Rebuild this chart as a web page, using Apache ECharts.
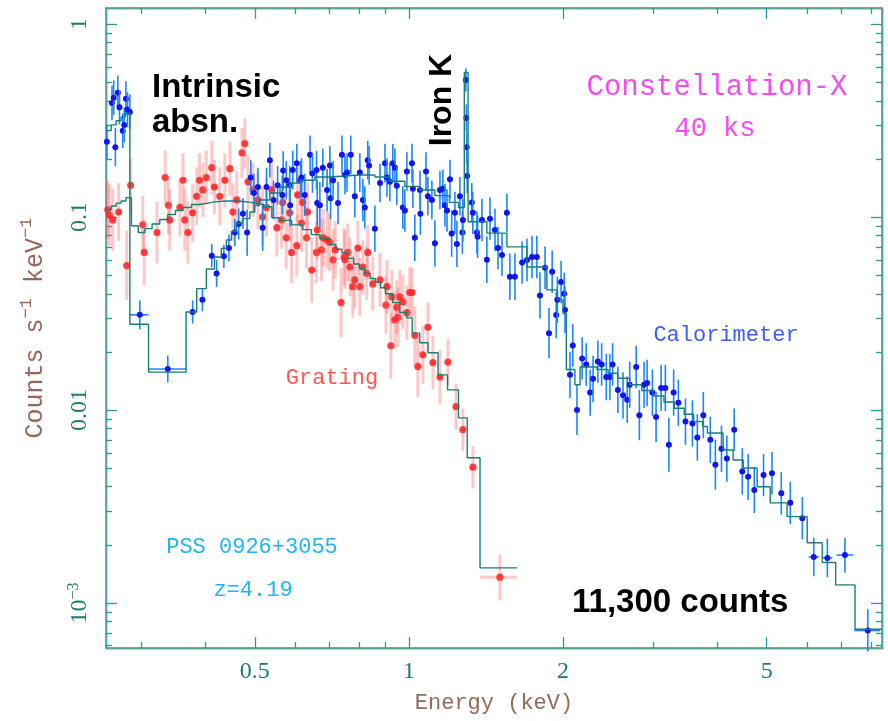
<!DOCTYPE html>
<html>
<head>
<meta charset="utf-8">
<title>Constellation-X simulated spectrum</title>
<script src="https://cdn.jsdelivr.net/npm/echarts@6/dist/echarts.min.js"></script>
<style>
  html, body { margin: 0; padding: 0; background: #fff; }
  #chart { width: 888px; height: 721px; }
</style>
</head>
<body>
<div id="chart"></div>
<script>
// axis ranges (keV, counts s^-1 keV^-1)
const energyRange = [0.256, 8.4];
const countRange = [0.000584, 1.21];
const energyMajorTicks = [0.5, 1, 2, 5];
const energyMinorTicks = [0.3, 0.4, 0.6, 0.7, 0.8, 0.9, 3, 4, 6, 7, 8];
const countMajorTicks = [0.001, 0.01, 0.1, 1];
const countMinorTicks = [
  0.0006, 0.0007, 0.0008, 0.0009,
  0.002, 0.003, 0.004, 0.005, 0.006, 0.007, 0.008, 0.009,
  0.02, 0.03, 0.04, 0.05, 0.06, 0.07, 0.08, 0.09,
  0.2, 0.3, 0.4, 0.5, 0.6, 0.7, 0.8, 0.9
];

// calorimeter points: [energy, counts, error (dex), bin low, bin high]
const calorimeterPoints = [
  [0.257, 0.245, 0.09], [0.263, 0.39, 0.09], [0.265, 0.415, 0.09], [0.267, 0.23, 0.10],
  [0.270, 0.44, 0.09], [0.272, 0.37, 0.09], [0.276, 0.28, 0.09], [0.278, 0.30, 0.09],
  [0.280, 0.41, 0.09], [0.282, 0.36, 0.09], [0.285, 0.35, 0.09],
  [0.298, 0.0311, 0.075, 0.285, 0.310], [0.338, 0.0163, 0.07, 0.310, 0.367],
  [0.378, 0.0322, 0.06], [0.395, 0.0372, 0.06], [0.412, 0.063, 0.06], [0.421, 0.051, 0.07],
  [0.435, 0.0625, 0.06], [0.445, 0.069, 0.07], [0.457, 0.083, 0.07], [0.465, 0.092, 0.08],
  [0.474, 0.104, 0.08], [0.483, 0.083, 0.12], [0.491, 0.160, 0.09], [0.498, 0.133, 0.10],
  [0.507, 0.143, 0.10], [0.518, 0.088, 0.12], [0.527, 0.143, 0.10], [0.535, 0.197, 0.09],
  [0.544, 0.1225, 0.10], [0.554, 0.146, 0.10], [0.566, 0.130, 0.10], [0.568, 0.174, 0.10],
  [0.576, 0.155, 0.10], [0.585, 0.146, 0.10], [0.586, 0.115, 0.11], [0.593, 0.175, 0.10],
  [0.604, 0.190, 0.10], [0.614, 0.155, 0.10], [0.617, 0.160, 0.10], [0.626, 0.130, 0.11],
  [0.641, 0.210, 0.10], [0.648, 0.168, 0.10], [0.660, 0.175, 0.10], [0.662, 0.118, 0.12],
  [0.670, 0.115, 0.12], [0.679, 0.180, 0.10], [0.692, 0.138, 0.11], [0.701, 0.185, 0.10],
  [0.703, 0.125, 0.11], [0.711, 0.155, 0.10], [0.727, 0.118, 0.11], [0.740, 0.210, 0.10],
  [0.750, 0.165, 0.10], [0.757, 0.170, 0.10], [0.770, 0.210, 0.10], [0.784, 0.128, 0.11],
  [0.802, 0.170, 0.10], [0.813, 0.1225, 0.11], [0.820, 0.112, 0.11], [0.831, 0.197, 0.10],
  [0.836, 0.185, 0.10], [0.858, 0.087, 0.12], [0.878, 0.150, 0.10], [0.898, 0.190, 0.10],
  [0.906, 0.160, 0.10], [0.918, 0.152, 0.10], [0.930, 0.190, 0.10], [0.939, 0.180, 0.10],
  [0.947, 0.145, 0.10], [0.973, 0.112, 0.11], [0.982, 0.108, 0.11], [0.991, 0.172, 0.10],
  [1.014, 0.190, 0.10], [1.018, 0.140, 0.10], [1.027, 0.078, 0.12], [1.051, 0.138, 0.10],
  [1.053, 0.104, 0.11], [1.080, 0.172, 0.10], [1.089, 0.128, 0.10], [1.109, 0.1225, 0.10],
  [1.124, 0.073, 0.12], [1.150, 0.138, 0.10], [1.165, 0.140, 0.10], [1.176, 0.115, 0.11],
  [1.187, 0.108, 0.11], [1.203, 0.157, 0.10], [1.212, 0.082, 0.12], [1.230, 0.105, 0.11],
  [1.241, 0.0725, 0.12], [1.258, 0.128, 0.10], [1.272, 0.083, 0.11], [1.275, 0.0965, 0.11],
  [1.292, 0.513, 0.06], [1.295, 0.326, 0.07], [1.297, 0.230, 0.08],
  [1.300, 0.163, 0.09], [1.327, 0.119, 0.10], [1.333, 0.105, 0.11], [1.358, 0.083, 0.11],
  [1.362, 0.079, 0.11], [1.389, 0.0965, 0.11], [1.420, 0.060, 0.12], [1.440, 0.098, 0.11],
  [1.473, 0.0856, 0.11], [1.493, 0.069, 0.11], [1.520, 0.0635, 0.11], [1.554, 0.105, 0.10],
  [1.575, 0.049, 0.12], [1.611, 0.049, 0.12], [1.664, 0.058, 0.11], [1.701, 0.0599, 0.11],
  [1.740, 0.062, 0.11], [1.778, 0.062, 0.11], [1.803, 0.0392, 0.12], [1.845, 0.0545, 0.11],
  [1.878, 0.025, 0.13], [1.905, 0.052, 0.11], [1.940, 0.031, 0.12], [1.950, 0.0372, 0.12],
  [1.983, 0.046, 0.11], [2.011, 0.040, 0.11], [2.018, 0.033, 0.12],
  [2.064, 0.0152, 0.12], [2.090, 0.0216, 0.11], [2.130, 0.0100, 0.13], [2.180, 0.0185, 0.11],
  [2.220, 0.0172, 0.11], [2.260, 0.0123, 0.12], [2.290, 0.0145, 0.12], [2.340, 0.0178, 0.11],
  [2.380, 0.0172, 0.11], [2.430, 0.0148, 0.12], [2.470, 0.0148, 0.12], [2.500, 0.0172, 0.11],
  [2.560, 0.0127, 0.12], [2.620, 0.0119, 0.12], [2.670, 0.0113, 0.12], [2.700, 0.0135, 0.12],
  [2.780, 0.0167, 0.11], [2.820, 0.0094, 0.13], [2.880, 0.0135, 0.12], [2.920, 0.0138, 0.12],
  [2.990, 0.0123, 0.12], [3.040, 0.0092, 0.13], [3.110, 0.0130, 0.12], [3.170, 0.0130, 0.12],
  [3.220, 0.0066, 0.14], [3.290, 0.0123, 0.12], [3.360, 0.0109, 0.12], [3.470, 0.0087, 0.12],
  [3.580, 0.0085, 0.12], [3.660, 0.0072, 0.12], [3.760, 0.0094, 0.12], [3.880, 0.0070, 0.12],
  [3.970, 0.0052, 0.13], [4.080, 0.0063, 0.12], [4.180, 0.0056, 0.12], [4.320, 0.0079, 0.11],
  [4.480, 0.0048, 0.12], [4.600, 0.0045, 0.12], [4.730, 0.00385, 0.12], [4.930, 0.0046, 0.11],
  [5.120, 0.0047, 0.11], [5.340, 0.0037, 0.11], [5.560, 0.0033, 0.11], [5.870, 0.00275, 0.11],
  [6.180, 0.00173, 0.10, 6.04, 6.32], [6.570, 0.00171, 0.10, 6.42, 6.72],
  [7.110, 0.00177, 0.09, 6.85, 7.38], [7.880, 0.00072, 0.11, 7.41, 8.33]
];

// grating points: [energy, counts, error (dex), bin low, bin high]
const gratingPoints = [
  [0.258, 0.109, 0.15], [0.260, 0.102, 0.16], [0.264, 0.0965, 0.16], [0.271, 0.106, 0.15],
  [0.281, 0.056, 0.18], [0.286, 0.146, 0.14], [0.302, 0.091, 0.15], [0.304, 0.0655, 0.17],
  [0.322, 0.083, 0.16], [0.334, 0.160, 0.14], [0.339, 0.115, 0.15], [0.341, 0.0965, 0.16],
  [0.357, 0.112, 0.15], [0.362, 0.155, 0.14], [0.365, 0.0965, 0.16], [0.370, 0.083, 0.16],
  [0.378, 0.105, 0.15], [0.385, 0.128, 0.15], [0.390, 0.155, 0.14], [0.396, 0.138, 0.14],
  [0.402, 0.160, 0.14], [0.412, 0.180, 0.14], [0.417, 0.143, 0.14], [0.427, 0.128, 0.15],
  [0.437, 0.155, 0.14], [0.447, 0.178, 0.14], [0.453, 0.106, 0.15], [0.461, 0.1225, 0.15],
  [0.472, 0.215, 0.13], [0.478, 0.240, 0.13], [0.485, 0.152, 0.14], [0.496, 0.138, 0.14],
  [0.507, 0.1225, 0.15], [0.518, 0.100, 0.15], [0.527, 0.112, 0.15], [0.540, 0.138, 0.14],
  [0.552, 0.088, 0.15], [0.564, 0.0965, 0.15], [0.567, 0.119, 0.14], [0.576, 0.078, 0.16],
  [0.585, 0.105, 0.15], [0.590, 0.0655, 0.16], [0.604, 0.071, 0.16], [0.606, 0.130, 0.14],
  [0.617, 0.093, 0.15], [0.620, 0.119, 0.14], [0.631, 0.078, 0.16], [0.634, 0.106, 0.15],
  [0.646, 0.0531, 0.17], [0.660, 0.0655, 0.16], [0.662, 0.0856, 0.15], [0.675, 0.0675, 0.16],
  [0.680, 0.078, 0.15], [0.692, 0.076, 0.15], [0.700, 0.074, 0.15], [0.711, 0.0599, 0.16],
  [0.718, 0.0675, 0.15], [0.737, 0.036, 0.18], [0.747, 0.062, 0.15], [0.750, 0.060, 0.15],
  [0.760, 0.0655, 0.15], [0.767, 0.055, 0.15], [0.777, 0.0435, 0.16], [0.784, 0.0472, 0.15],
  [0.795, 0.069, 0.14], [0.802, 0.0435, 0.15], [0.813, 0.055, 0.14], [0.827, 0.051, 0.14],
  [0.831, 0.0655, 0.14], [0.850, 0.045, 0.14], [0.878, 0.0472, 0.14], [0.902, 0.0349, 0.15],
  [0.906, 0.0435, 0.14], [0.922, 0.0215, 0.17], [0.926, 0.0385, 0.14], [0.939, 0.0293, 0.15],
  [0.947, 0.034, 0.14], [0.952, 0.0302, 0.15], [0.960, 0.0385, 0.14], [0.973, 0.0363, 0.14],
  [0.991, 0.0319, 0.14], [1.004, 0.0406, 0.13], [1.014, 0.0406, 0.13], [1.027, 0.0243, 0.15],
  [1.041, 0.0168, 0.16], [1.065, 0.0193, 0.15], [1.089, 0.0268, 0.13], [1.114, 0.0176, 0.14],
  [1.150, 0.0148, 0.14], [1.192, 0.0177, 0.12], [1.236, 0.0104, 0.12], [1.275, 0.0079, 0.11],
  [1.334, 0.00505, 0.11], [1.506, 0.00136, 0.12, 1.377, 1.627]
];

// folded model, one [bin start, value] per bin, last entry closes the final bin
const calorimeterModel = [
  [0.256, 0.28], [0.262, 0.30], [0.268, 0.315], [0.274, 0.33], [0.279, 0.345],
  [0.285, 0.0278], [0.310, 0.0157], [0.367, 0.0322], [0.385, 0.0425], [0.402, 0.0537],
  [0.417, 0.062], [0.430, 0.0687], [0.440, 0.076], [0.450, 0.084], [0.460, 0.093],
  [0.473, 0.098], [0.489, 0.106], [0.500, 0.115], [0.511, 0.1225], [0.535, 0.133],
  [0.560, 0.143], [0.585, 0.150], [0.612, 0.155], [0.655, 0.161], [0.700, 0.163],
  [0.750, 0.165], [0.800, 0.165], [0.858, 0.161], [0.918, 0.153], [0.982, 0.144],
  [1.050, 0.138], [1.124, 0.129], [1.200, 0.119], [1.250, 0.112], [1.283, 0.56],
  [1.305, 0.0945], [1.420, 0.0825], [1.554, 0.070], [1.700, 0.055], [1.860, 0.0419],
  [1.950, 0.0372], [2.000, 0.0318], [2.030, 0.0162], [2.110, 0.0135], [2.160, 0.0167],
  [2.330, 0.0162], [2.450, 0.0155], [2.560, 0.0146], [2.700, 0.0135], [2.850, 0.0126],
  [3.000, 0.0118], [3.150, 0.0110], [3.300, 0.0102], [3.450, 0.0095], [3.600, 0.0087],
  [3.750, 0.0082], [3.830, 0.0076], [4.110, 0.0062], [4.300, 0.0055], [4.500, 0.0050],
  [4.790, 0.0040], [5.080, 0.0033], [5.480, 0.0028], [6.000, 0.00205], [6.420, 0.00162],
  [6.820, 0.00124], [7.440, 0.00073], [8.400, 0.00073]
];

const gratingModel = [
  [0.256, 0.109], [0.262, 0.114], [0.268, 0.118], [0.274, 0.121], [0.280, 0.126],
  [0.287, 0.090], [0.296, 0.083], [0.305, 0.087], [0.315, 0.092], [0.326, 0.097],
  [0.338, 0.103], [0.350, 0.108], [0.362, 0.112], [0.376, 0.116], [0.390, 0.118],
  [0.405, 0.120], [0.420, 0.121], [0.440, 0.121], [0.460, 0.120], [0.480, 0.118],
  [0.500, 0.116], [0.520, 0.113], [0.540, 0.099], [0.560, 0.096], [0.590, 0.091],
  [0.620, 0.086], [0.645, 0.081], [0.670, 0.077], [0.700, 0.072], [0.720, 0.068],
  [0.740, 0.065], [0.760, 0.061], [0.780, 0.057], [0.800, 0.054], [0.820, 0.051],
  [0.840, 0.048], [0.860, 0.046], [0.880, 0.043], [0.900, 0.040], [0.930, 0.036],
  [0.960, 0.032], [0.990, 0.030], [1.015, 0.025], [1.050, 0.0223], [1.090, 0.0198],
  [1.140, 0.0152], [1.190, 0.0127], [1.250, 0.0091], [1.300, 0.00565], [1.377, 0.00152],
  [1.627, 0.00152]
];

const frameColor = '#1f9e96';
const labelColor = '#1c7a72';
const titleColor = '#96685c';
const modelColor = '#167f78';
const plotFont = '"Liberation Mono", monospace';
const tickFont = '"Liberation Serif", serif';

const frameLine = {
  color: frameColor, width: 1.5,
  shadowColor: 'rgba(255, 110, 110, 0.6)', shadowOffsetX: 1, shadowOffsetY: 1
};

function countLabel(value) {
  if (Math.abs(value - 0.001) < 1e-6) return '{b|10}{s|−3}';
  if (Math.abs(value - 0.01) < 1e-5) return '0.01';
  if (Math.abs(value - 0.1) < 1e-4) return '0.1';
  return '1';
}

function energyLabel(value) {
  return String(Math.round(value * 10) / 10);
}

function withBins(points) {
  return points.map(([e, c, d, lo, hi]) => [e, c, d, lo ?? e, hi ?? e]);
}

function errorBars(dotColor, barColor, barWidth, radius) {
  return function (params, api) {
    const e = api.value(0);
    const c = api.value(1);
    const d = api.value(2);
    const lo = api.value(3);
    const hi = api.value(4);
    const p = api.coord([e, c]);
    const top = api.coord([e, c * Math.pow(10, d)]);
    const bottom = api.coord([e, c / Math.pow(10, d)]);
    let x1 = p[0] - 2.5;
    let x2 = p[0] + 2.5;
    if (hi > lo) {
      x1 = api.coord([lo, c])[0];
      x2 = api.coord([hi, c])[0];
    }
    return {
      type: 'group',
      children: [
        { type: 'line', shape: { x1: p[0], y1: top[1], x2: p[0], y2: bottom[1] }, style: { stroke: barColor, lineWidth: barWidth } },
        { type: 'line', shape: { x1: x1, y1: p[1], x2: x2, y2: p[1] }, style: { stroke: barColor, lineWidth: barWidth } },
        { type: 'circle', shape: { cx: p[0], cy: p[1], r: radius }, style: { fill: dotColor } }
      ]
    };
  };
}

function energyAxis(position, ticks, length, showLine, showLabels) {
  return {
    type: 'log', logBase: 10, position: position,
    min: energyRange[0], max: energyRange[1],
    axisLine: { show: showLine, onZero: false, lineStyle: frameLine },
    axisTick: { show: true, inside: true, length: length, customValues: ticks, lineStyle: { color: frameColor, width: 1.3 } },
    axisLabel: {
      show: showLabels, customValues: ticks, margin: 12, formatter: energyLabel,
      color: labelColor, fontFamily: tickFont, fontSize: 24,
      textShadowColor: 'rgba(255, 120, 120, 0.5)', textShadowOffsetX: 1
    },
    splitLine: { show: false }
  };
}

function countAxis(position, ticks, length, showLine, showLabels) {
  return {
    type: 'log', logBase: 10, position: position,
    min: countRange[0], max: countRange[1],
    axisLine: { show: showLine, onZero: false, lineStyle: frameLine },
    axisTick: { show: true, inside: true, length: length, customValues: ticks, lineStyle: { color: frameColor, width: 1.3 } },
    axisLabel: {
      show: showLabels, customValues: ticks, rotate: 90, margin: 14, formatter: countLabel,
      color: labelColor, fontFamily: tickFont, fontSize: 24,
      textShadowColor: 'rgba(255, 120, 120, 0.5)', textShadowOffsetX: 1,
      rich: {
        b: { fontFamily: tickFont, fontSize: 24, color: labelColor, lineHeight: 26, verticalAlign: 'bottom' },
        s: { fontFamily: tickFont, fontSize: 16, color: labelColor, lineHeight: 26, verticalAlign: 'top', padding: [0, 0, 10, 0] }
      }
    },
    splitLine: { show: false }
  };
}

const xAxes = [
  energyAxis('bottom', energyMajorTicks, 11, true, true),
  energyAxis('bottom', energyMinorTicks, 6, false, false),
  energyAxis('top', energyMajorTicks, 11, true, false),
  energyAxis('top', energyMinorTicks, 6, false, false)
];
xAxes[0].name = 'Energy (keV)';
xAxes[0].nameLocation = 'middle';
xAxes[0].nameGap = 44;
xAxes[0].nameTextStyle = {
  color: titleColor, fontFamily: plotFont, fontSize: 22,
  textShadowColor: 'rgba(40, 160, 150, 0.45)', textShadowOffsetX: 1
};

const yAxes = [
  countAxis('left', countMajorTicks, 11, true, true),
  countAxis('left', countMinorTicks, 6, false, false),
  countAxis('right', countMajorTicks, 11, true, false),
  countAxis('right', countMinorTicks, 6, false, false)
];
yAxes[0].name = '{t|Counts s}{s|−1}{t| keV}{s|−1}';
yAxes[0].nameLocation = 'middle';
yAxes[0].nameRotate = 90;
yAxes[0].nameGap = 58;
yAxes[0].nameTextStyle = {
  textShadowColor: 'rgba(40, 160, 150, 0.45)', textShadowOffsetX: 1,
  rich: {
    t: { color: titleColor, fontFamily: plotFont, fontSize: 25, lineHeight: 30, verticalAlign: 'bottom' },
    s: { color: titleColor, fontFamily: plotFont, fontSize: 17, lineHeight: 30, verticalAlign: 'top' }
  }
};

function plotText(text, x, y, font, color, align, rotation) {
  return {
    type: 'text', x: x, y: y, silent: true, z: 50, rotation: rotation || 0,
    style: {
      text: text, font: font, fill: color,
      align: align || 'center', verticalAlign: 'middle',
      textAlign: align || 'center', textVerticalAlign: 'middle'
    }
  };
}

const boldFont = 'bold 33px "Liberation Sans", Arial, sans-serif';

const chart = echarts.init(document.getElementById('chart'), null, { renderer: 'canvas' });

chart.setOption({
  animation: false,
  backgroundColor: '#ffffff',
  grid: { left: 106, right: 6, top: 8, bottom: 73, containLabel: false },
  xAxis: xAxes,
  yAxis: yAxes,
  series: [
    {
      name: 'Grating', type: 'custom', xAxisIndex: 0, yAxisIndex: 0,
      data: withBins(gratingPoints), encode: { x: 0, y: 1 }, z: 2, silent: true,
      renderItem: errorBars('rgba(255, 35, 35, 0.85)', 'rgba(255, 95, 95, 0.35)', 3, 3.6)
    },
    {
      name: 'Calorimeter', type: 'custom', xAxisIndex: 0, yAxisIndex: 0,
      data: withBins(calorimeterPoints), encode: { x: 0, y: 1 }, z: 3, silent: true,
      renderItem: errorBars('#1414f0', '#1a86ff', 1.6, 3)
    },
    {
      name: 'Grating model', type: 'line', step: 'end', xAxisIndex: 0, yAxisIndex: 0,
      data: gratingModel, symbol: 'none', z: 5, silent: true,
      lineStyle: { color: modelColor, width: 1.4 }
    },
    {
      name: 'Calorimeter model', type: 'line', step: 'end', xAxisIndex: 0, yAxisIndex: 0,
      data: calorimeterModel, symbol: 'none', z: 5, silent: true,
      lineStyle: { color: modelColor, width: 1.4 }
    }
  ],
  graphic: [
    plotText('Intrinsic', 152, 88, boldFont, '#000', 'left'),
    plotText('absn.', 152, 123, boldFont, '#000', 'left'),
    plotText('Iron K', 442, 100, 'bold 32px "Liberation Sans", Arial, sans-serif', '#000', 'center', Math.PI / 2),
    plotText('11,300 counts', 572, 603, boldFont, '#000', 'left'),
    plotText('Constellation-X', 717, 87, '29px ' + plotFont, '#f24cf2'),
    plotText('40 ks', 715, 129, '27px ' + plotFont, '#f24cf2'),
    plotText('Calorimeter', 726, 335, '22px ' + plotFont, '#3d5cff'),
    plotText('Grating', 332, 378, '22px ' + plotFont, '#ff5555'),
    plotText('PSS 0926+3055', 252, 547, '22px ' + plotFont, '#1fb4f5'),
    plotText('z=4.19', 253, 590, '22px ' + plotFont, '#1fb4f5')
  ]
});
</script>
</body>
</html>
